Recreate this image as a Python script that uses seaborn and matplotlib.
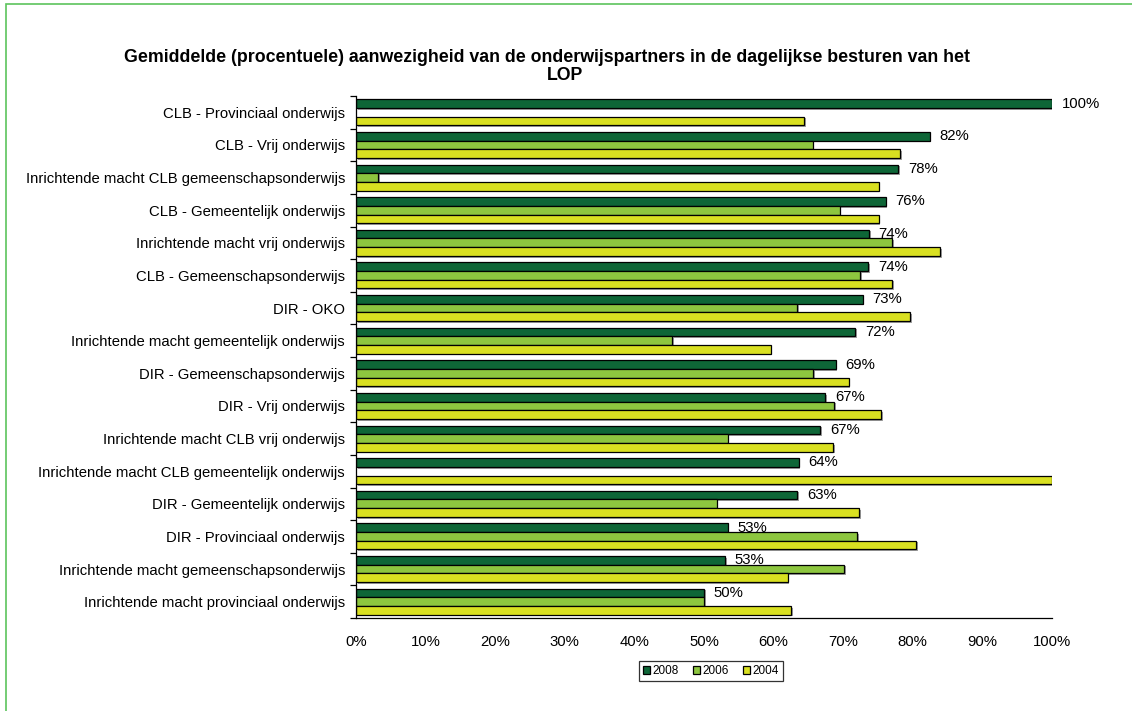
import numpy as np
import pandas as pd
import matplotlib
matplotlib.use("Agg")
import matplotlib.pyplot as plt
import matplotlib.patheffects as pe
import seaborn as sns
from matplotlib.patches import Rectangle
from matplotlib.ticker import FixedLocator

categories = [
    "CLB - Provinciaal onderwijs",
    "CLB - Vrij onderwijs",
    "Inrichtende macht CLB gemeenschapsonderwijs",
    "CLB - Gemeentelijk onderwijs",
    "Inrichtende macht vrij onderwijs",
    "CLB - Gemeenschapsonderwijs",
    "DIR - OKO",
    "Inrichtende macht gemeentelijk onderwijs",
    "DIR - Gemeenschapsonderwijs",
    "DIR - Vrij onderwijs",
    "Inrichtende macht CLB vrij onderwijs",
    "Inrichtende macht CLB gemeentelijk onderwijs",
    "DIR - Gemeentelijk onderwijs",
    "DIR - Provinciaal onderwijs",
    "Inrichtende macht gemeenschapsonderwijs",
    "Inrichtende macht provinciaal onderwijs",
]
years = ["2008", "2006", "2004"]
v2008 = [100.0, 82.4, 77.9, 76.1, 73.7, 73.6, 72.8, 71.7, 68.9, 67.4, 66.7, 63.6, 63.4, 53.4, 53.0, 50.0]
v2006 = [np.nan, 65.6, 3.2, 69.5, 77.0, 72.4, 63.4, 45.4, 65.7, 68.7, 53.4, np.nan, 51.8, 72.0, 70.1, 50.0]
v2004 = [64.4, 78.2, 75.1, 75.1, 83.9, 77.0, 79.6, 59.6, 70.8, 75.5, 68.6, 100.0, 72.3, 80.5, 62.0, 62.5]
xticks = list(range(0, 101, 10))
colors = ["#0E6637", "#8DC63F", "#D9E021"]
title_line1 = "Gemiddelde (procentuele) aanwezigheid van de onderwijspartners in de dagelijkse besturen van het"
title_line2 = "LOP"

rows = []
for y, vals in zip(years, [v2008, v2006, v2004]):
    for c, v in zip(categories, vals):
        rows.append({"cat": c, "year": y, "val": v})
df = pd.DataFrame(rows)

sns.set_theme(style="white")
plt.rcParams["font.family"] = ["Liberation Sans", "DejaVu Sans"]
plt.rcParams["text.color"] = "black"
plt.rcParams["xtick.color"] = "black"
plt.rcParams["ytick.color"] = "black"
plt.rcParams["axes.labelcolor"] = "black"

W, H = 1132, 711
fig = plt.figure(figsize=(W / 100, H / 100), dpi=100)
top, bottom, left, right = 96, 618, 356, 1052
ax = fig.add_axes([left / W, 1 - bottom / H, (right - left) / W, (bottom - top) / H])

sns.barplot(data=df, y="cat", x="val", hue="year", hue_order=years, order=categories,
            orient="h", palette=colors, saturation=1, edgecolor="black", linewidth=0.9,
            width=0.8, ax=ax, legend=True)

shadow = [pe.SimplePatchShadow(offset=(1.2, -1.2), shadow_rgbFace="#8a8a8a", alpha=0.8), pe.Normal()]
for cont in ax.containers:
    for p in cont:
        p.set_path_effects(shadow)

ax.set_xlim(0, 100)
ax.set_ylim(len(categories) - 0.5, -0.5)
ax.set_xticks(xticks)
ax.set_xticklabels([f"{t}%" for t in xticks], fontsize=10.7)
ax.tick_params(axis="x", direction="out", length=4, width=0.9, color="black", pad=8, labelcolor="black")
ax.tick_params(axis="y", which="major", length=0, pad=8, labelsize=10.7, labelcolor="black")
ax.yaxis.set_minor_locator(FixedLocator(np.arange(-0.5, len(categories), 1.0)))
ax.tick_params(axis="y", which="minor", direction="out", length=4, width=0.9, color="black", left=True)
ax.set_xlabel("")
ax.set_ylabel("")
for s in ["top", "right"]:
    ax.spines[s].set_visible(False)
for s in ["left", "bottom"]:
    ax.spines[s].set_color("black")
    ax.spines[s].set_linewidth(0.9)

ax.bar_label(ax.containers[0], labels=[f"{v:.0f}%" for v in v2008], padding=7, fontsize=10.7, color="black")

leg = ax.legend(loc="center", bbox_to_anchor=(711 / W, 1 - 671 / H), bbox_transform=fig.transFigure,
                ncol=3, fontsize=8.5, frameon=True, fancybox=False, edgecolor="black",
                handlelength=0.6, handleheight=0.6, handletextpad=0.2, columnspacing=1.2,
                borderpad=0.35)
leg.get_frame().set_linewidth(0.9)
for t in leg.get_texts():
    t.set_color("black")

fig.text(547 / W, 1 - 58 / H, title_line1, ha="center", va="center", fontsize=12.8, fontweight="bold", color="black")
fig.text(565 / W, 1 - 75 / H, title_line2, ha="center", va="center", fontsize=12.8, fontweight="bold", color="black")

fig.patches.append(Rectangle((6 / W, -0.01), 1.2, 1 - 4 / H + 0.01, transform=fig.transFigure,
                             fill=False, edgecolor="#5CC45C", linewidth=1.2))

fig.savefig("out.png", dpi=100)
